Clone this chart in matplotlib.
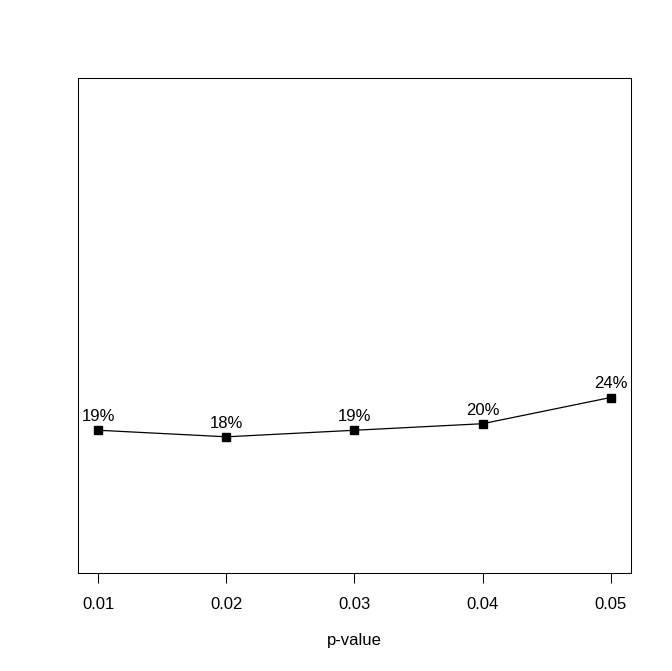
import matplotlib
matplotlib.use("Agg")
import matplotlib.pyplot as plt

p_values = [0.01, 0.02, 0.03, 0.04, 0.05]
rates = [0.19, 0.18, 0.19, 0.20, 0.24]
labels = ["19%", "18%", "19%", "20%", "24%"]
tick_labels = ["0.01", "0.02", "0.03", "0.04", "0.05"]

plt.rcParams['font.family'] = ['Liberation Sans', 'DejaVu Sans']

fig = plt.figure(figsize=(6.72, 6.71), dpi=100)
W, H = 672, 671
ax = fig.add_axes([78 / W, (H - 573) / H, (631 - 78) / W, (573 - 78) / H])

ax.plot(p_values, rates, color='black', linewidth=0.9, marker='s',
        markersize=5.2, markerfacecolor='black', markeredgecolor='black')
for x, y, t in zip(p_values, rates, labels):
    ax.annotate(t, (x, y), xytext=(0, 6.5), textcoords='offset points',
                ha='center', va='baseline', fontsize=12)

ax.set_xlim(0.01 - 0.04 * 0.04, 0.05 + 0.04 * 0.04)
ax.set_ylim(0 - 0.04 * 0.7, 0.7 + 0.04 * 0.7)
ax.set_xticks(p_values)
ax.set_xticklabels(tick_labels, fontsize=12)
ax.set_yticks([])
ax.tick_params(axis='x', length=7.2, width=0.75, pad=10)
for s in ax.spines.values():
    s.set_linewidth(0.75)
ax.set_xlabel("p-value", fontsize=12, labelpad=15)

fig.savefig("out.png", dpi=100)
